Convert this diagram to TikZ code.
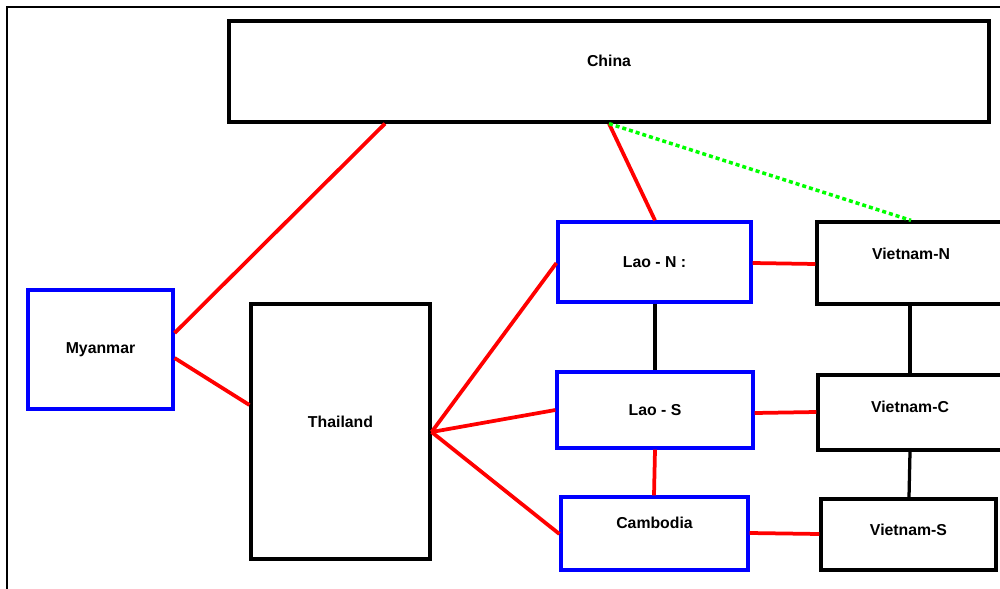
\documentclass[tikz,border=0pt]{standalone}
\usepackage{fontspec}
\setmainfont{Liberation Sans}
\begin{document}
\begin{tikzpicture}[x=0.02cm,y=-0.02cm,
  lbl/.style={font=\bfseries\fontsize{9}{11}\selectfont},
  every label/.style={lbl},
  box/.style={draw=black, line width=0.065cm, fill=white, inner sep=0pt, lbl},
  bluebox/.style={box, draw=blue},
  redl/.style={draw=red, line width=0.075cm},
  blkl/.style={draw=black, line width=0.065cm},
  grnl/.style={draw=green, line width=0.07cm, dash pattern=on 0.08cm off 0.06cm}]
\useasboundingbox (0,0) rectangle (1000,588);
\clip (0,0) rectangle (1000,588);
\draw[line width=0.045cm] (7,620) -- (7,7) -- (1020,7);
% nodes
\node[box, minimum width=15.2cm, minimum height=2.02cm, label={[yshift=0.21cm]center:China}] (china) at (609,71.5) {};
\node[bluebox, minimum width=2.9cm, minimum height=2.38cm] (myan) at (100.5,349.5) {Myanmar};
\node[box, minimum width=3.58cm, minimum height=5.1cm, label={[yshift=0.19cm]center:Thailand}] (thai) at (340.5,431.5) {};
\node[bluebox, minimum width=3.86cm, minimum height=1.6cm] (laon) at (654.5,262) {Lao - N :};
\node[bluebox, minimum width=3.92cm, minimum height=1.52cm] (laos) at (655,410) {Lao - S};
\node[bluebox, minimum width=3.74cm, minimum height=1.46cm, label={[yshift=0.21cm]center:Cambodia}] (cam) at (654.5,533.5) {};
\node[box, minimum width=3.86cm, minimum height=1.64cm, label={[yshift=0.18cm,xshift=-0.05cm]center:Vietnam-N}] (vn) at (913.5,263) {};
\node[box, minimum width=3.84cm, minimum height=1.5cm, label={[yshift=0.11cm,xshift=-0.08cm]center:Vietnam-C}] (vc) at (914,412.5) {};
\node[box, minimum width=3.5cm, minimum height=1.42cm, label={[yshift=0.09cm]center:Vietnam-S}] (vs) at (908.5,534.5) {};
% connectors
\draw[redl] (385,0 |- china.south) -- (myan.east |- 0,333);
\draw[redl] (myan.east |- 0,358) -- (thai.west |- 0,405);
\draw[redl] (609,0 |- china.south) -- (655,0 |- laon.north);
\draw[grnl] (609,0 |- china.south) -- (911,0 |- vn.north);
\draw[redl] (thai.east |- 0,432) -- (laon.west |- 0,263);
\draw[redl] (thai.east |- 0,432) -- (laos.west |- 0,410);
\draw[redl] (thai.east |- 0,432) -- (cam.west |- 0,534);
\draw[blkl] (655,0 |- laon.south) -- (655,0 |- laos.north);
\draw[redl] (655,0 |- laos.south) -- (654,0 |- cam.north);
\draw[redl] (laon.east |- 0,263) -- (vn.west |- 0,264);
\draw[redl] (laos.east |- 0,413) -- (vc.west |- 0,412);
\draw[redl] (cam.east |- 0,533) -- (vs.west |- 0,534);
\draw[blkl] (910,0 |- vn.south) -- (910,0 |- vc.north);
\draw[blkl] (910,0 |- vc.south) -- (909,0 |- vs.north);
\end{tikzpicture}
\end{document}
